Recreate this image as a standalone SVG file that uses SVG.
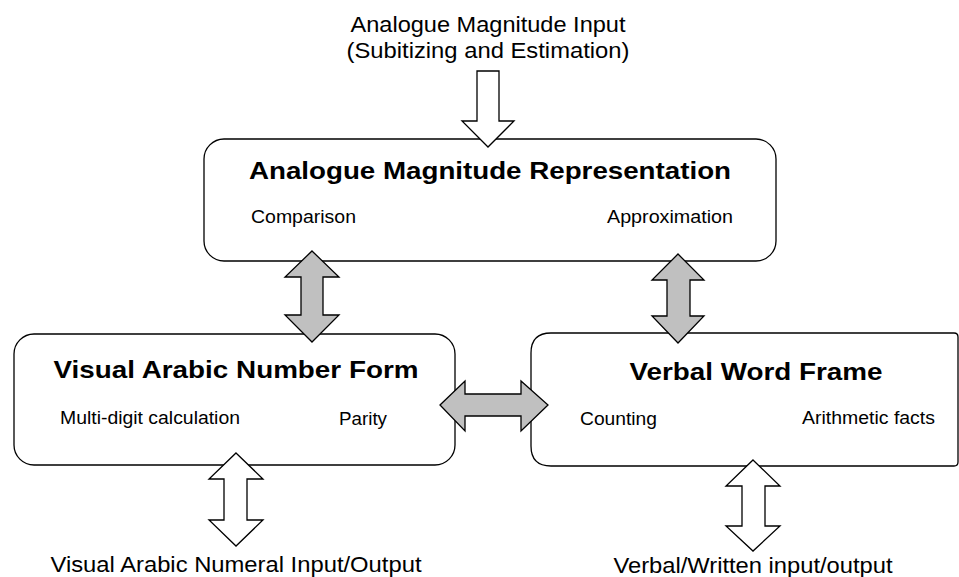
<svg xmlns="http://www.w3.org/2000/svg" width="959" height="577" viewBox="0 0 959 577">
<style>
.box{fill:#fff;stroke:#000;stroke-width:1.3}
.t{font-family:"Liberation Sans",Arial,sans-serif;fill:#000}
.big{font-size:22px}
.title{font-size:24px;font-weight:bold}
.sm{font-size:17.5px}
.w{fill:#fff;stroke:#000;stroke-width:1.3;stroke-linejoin:miter}
.g{fill:#c0c0c0;stroke:#000;stroke-width:1.3;stroke-linejoin:miter}
</style>
<rect width="959" height="577" fill="#fff"/>
<g id="input-top">
<text class="t big" x="488" y="32" text-anchor="middle" textLength="275" lengthAdjust="spacingAndGlyphs">Analogue Magnitude Input</text>
<text class="t big" x="488" y="58" text-anchor="middle" textLength="283" lengthAdjust="spacingAndGlyphs">(Subitizing and Estimation)</text>
</g>
<g id="node-amr">
<rect class="box" x="204" y="139" width="572" height="122" rx="20" ry="20"/>
<text class="t title" x="490" y="179" text-anchor="middle" textLength="482" lengthAdjust="spacingAndGlyphs">Analogue Magnitude Representation</text>
<text class="t sm" x="251" y="223" textLength="105" lengthAdjust="spacingAndGlyphs">Comparison</text>
<text class="t sm" x="607" y="223" textLength="126" lengthAdjust="spacingAndGlyphs">Approximation</text>
</g>
<g id="node-vanf">
<rect class="box" x="14" y="334" width="441" height="131" rx="20" ry="20"/>
<text class="t title" x="236" y="378" text-anchor="middle" textLength="365" lengthAdjust="spacingAndGlyphs">Visual Arabic Number Form</text>
<text class="t sm" x="60" y="424" textLength="180" lengthAdjust="spacingAndGlyphs">Multi-digit calculation</text>
<text class="t sm" x="339" y="425" textLength="48" lengthAdjust="spacingAndGlyphs">Parity</text>
</g>
<g id="node-vwf">
<path class="box" d="M551,333 H954 Q958,333 958,337 V462 Q958,466 954,466 H551 Q531,466 531,446 V353 Q531,333 551,333 Z"/>
<text class="t title" x="756" y="380" text-anchor="middle" textLength="253" lengthAdjust="spacingAndGlyphs">Verbal Word Frame</text>
<text class="t sm" x="580" y="425" textLength="77" lengthAdjust="spacingAndGlyphs">Counting</text>
<text class="t sm" x="802" y="424" textLength="133" lengthAdjust="spacingAndGlyphs">Arithmetic facts</text>
</g>
<g id="io-left">
<text class="t big" x="236" y="572" text-anchor="middle" textLength="371" lengthAdjust="spacingAndGlyphs">Visual Arabic Numeral Input/Output</text>
</g>
<g id="io-right">
<text class="t big" x="753" y="573" text-anchor="middle" textLength="279" lengthAdjust="spacingAndGlyphs">Verbal/Written input/output</text>
</g>
<g id="connectors">
<polygon class="w" points="477,71 499,71 499,121 514,121 488,147 462,121 477,121"/>
<polygon class="g" points="312,251 339,277 323,277 323,315 339,315 312,342 285,315 301,315 301,277 285,277"/>
<polygon class="g" points="678,254 704,280 690,280 690,316 704,316 678,343 652,316 667,316 667,280 652,280"/>
<polygon class="g" points="440,405 465,381 465,394 521,394 521,381 548,405 521,431 521,416 465,416 465,431"/>
<polygon class="w" points="236,453 263,479 247,479 247,520 263,520 236,546 209,520 224,520 224,479 209,479"/>
<polygon class="w" points="753,460 780,486 765,486 765,526 780,526 753,551 726,526 742,526 742,486 726,486"/>
</g>
</svg>
